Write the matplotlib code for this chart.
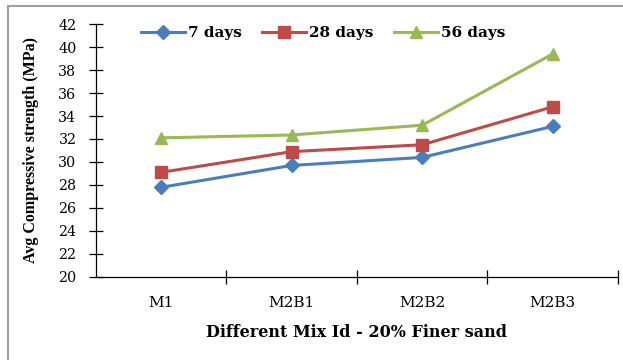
import matplotlib.pyplot as plt
from matplotlib.patches import Rectangle

plt.rcParams['font.family'] = ['DejaVu Serif']

mixes = ['M1', 'M2B1', 'M2B2', 'M2B3']
days7 = [27.8, 29.7, 30.4, 33.1]
days28 = [29.1, 30.9, 31.5, 34.8]
days56 = [32.1, 32.35, 33.2, 39.4]

fig = plt.figure(figsize=(6.23, 3.6), dpi=100)
ax = fig.add_axes([0.154, 0.2306, 0.838, 0.7027])

# outer frame of the picture (only left and top visible in the original)
fig.patches.append(Rectangle((0.013, -0.1), 1.2, 1.083, transform=fig.transFigure,
                             fill=False, edgecolor='#a0a0a0', linewidth=1.5))

x = range(len(mixes))
ax.plot(x, days7, color='#4a7ebb', marker='D', markersize=7, linewidth=2.2, label='7 days')
ax.plot(x, days28, color='#be4b48', marker='s', markersize=8, linewidth=2.2, label='28 days')
ax.plot(x, days56, color='#98b954', marker='^', markersize=9, linewidth=2.2, label='56 days')

ax.set_xlim(-0.5, 3.5)
ax.set_ylim(20, 42)
ax.set_yticks(range(20, 43, 2))
ax.set_xticks(list(x))
ax.set_xticklabels(mixes, fontsize=11)
ax.set_xticks([0.5, 1.5, 2.5, 3.5], minor=True)
ax.tick_params(axis='x', which='major', length=0, pad=14)
ax.tick_params(axis='x', which='minor', direction='inout', length=10, width=0.9)
ax.tick_params(axis='y', direction='inout', length=10, width=0.9, labelsize=10.3, pad=9)

for side in ['top', 'right']:
    ax.spines[side].set_visible(False)
for side in ['left', 'bottom']:
    ax.spines[side].set_linewidth(0.9)

ax.set_ylabel('Avg Compressive strength (MPa)', fontsize=11.5, fontweight='bold',
              family='Liberation Serif', labelpad=14)
ax.set_xlabel('Different Mix Id - 20% Finer sand', fontsize=11.5, fontweight='bold', labelpad=10)

ax.legend(loc='upper left', bbox_to_anchor=(0.06, 1.045), ncol=3, frameon=False,
          handlelength=2.9, handletextpad=0.2, columnspacing=1.3,
          prop={'weight': 'bold', 'size': 11})

fig.savefig('out.png', dpi=100)
